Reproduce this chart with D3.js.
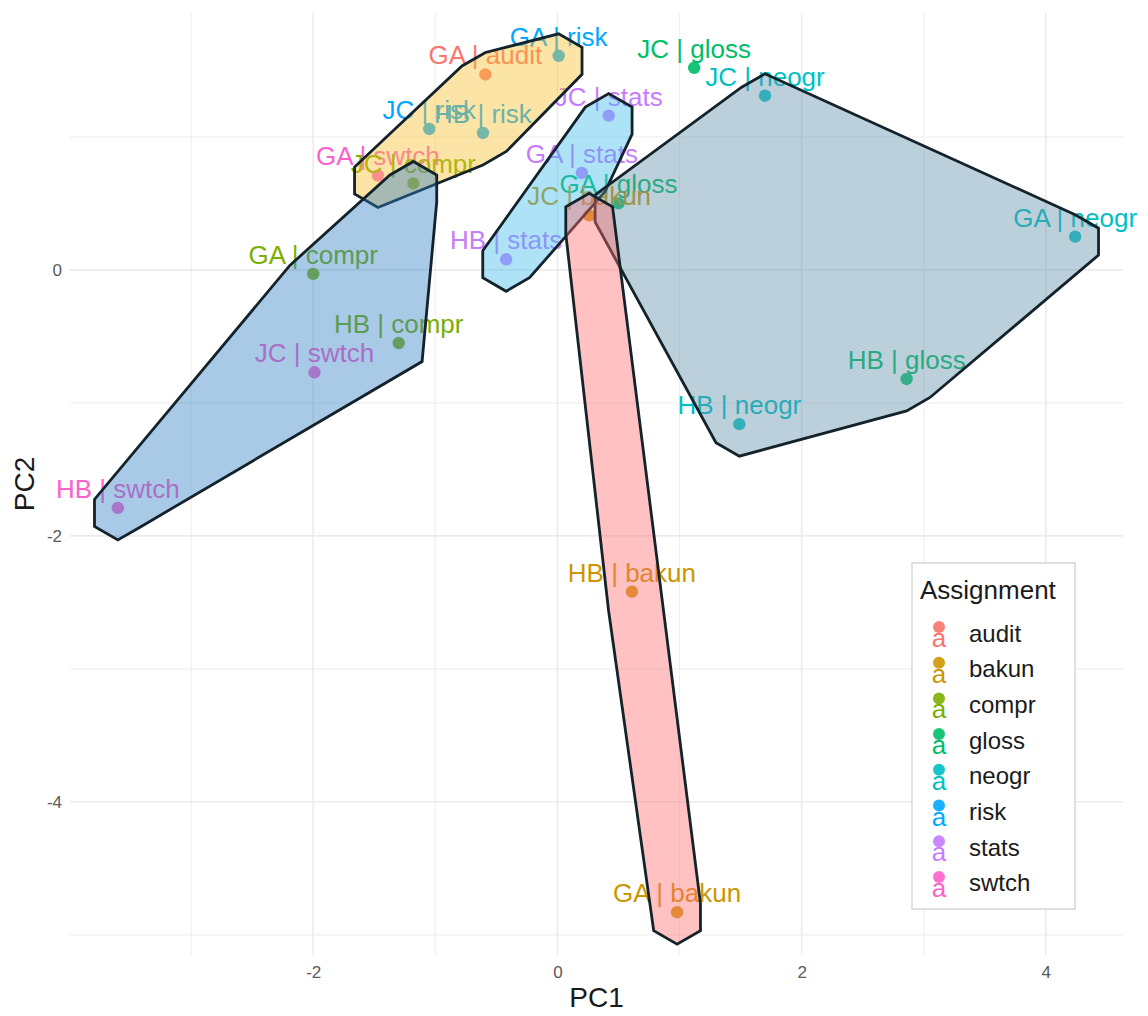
<!DOCTYPE html>
<html>
<head>
<meta charset="utf-8">
<script src="https://cdn.jsdelivr.net/npm/d3@7"></script>
<style>
  html, body { margin: 0; padding: 0; background: #fff; }
  svg { display: block; font-family: "Liberation Sans", Arial, sans-serif; }
</style>
</head>
<body>
<svg id="chart" width="1148" height="1016"></svg>
<script>
// ---- data ----
const coders      = ["GA","GA","JC","HB","GA","JC","GA","HB","JC","HB","JC","GA","HB","JC","GA","HB","HB","GA","JC","HB","GA","JC"];
const assignments = ["audit","risk","risk","risk","swtch","compr","compr","compr","swtch","swtch","stats","stats","stats","neogr","neogr","gloss","neogr","gloss","bakun","bakun","bakun","gloss"];
const pc1 = [-0.59, 0.01, -1.05, -0.61, -1.47, -1.18, -2.00, -1.30, -1.99, -3.60, 0.42, 0.20, -0.42, 1.70, 4.24, 2.86, 1.49, 0.50, 0.26, 0.61, 0.98, 1.12];
const pc2 = [1.47, 1.61, 1.06, 1.03, 0.71, 0.65, -0.03, -0.55, -0.77, -1.79, 1.16, 0.73, 0.08, 1.31, 0.25, -0.82, -1.16, 0.50, 0.41, -2.42, -4.83, 1.52];
const cluster = [1,1,1,1,1, 2,2,2,2,2, 3,3,3, 4,4,4,4,4, 5,5,5, 6];

const categories = ["audit","bakun","compr","gloss","neogr","risk","stats","swtch"];
const catColors  = ["#F8766D","#CD9600","#7CAE00","#00BE67","#00BFC4","#00A9FF","#C77CFF","#FF61CC"];
const clusterIds = [1,2,3,4,5,6];
const clusterFill = ["#F7BE2E","#2F80C4","#3DBBEA","#5C8EA7","#FF6B6B","#999999"];

const xMajor = [-2, 0, 2, 4];
const xMinor = [-3, -1, 1, 3];
const yMajor = [0, -2, -4];
const yMinor = [1, -1, -3, -5];

// ---- layout ----
const svg = d3.select("#chart");
const panel = {left: 70, right: 1123, top: 13, bottom: 955};

function expandExtent(arr) {
  const e = d3.extent(arr);
  const pad = (e[1] - e[0]) * 0.05;
  return [e[0] - pad, e[1] + pad];
}
const x = d3.scaleLinear().domain(expandExtent(pc1)).range([panel.left, panel.right]);
const y = d3.scaleLinear().domain(expandExtent(pc2)).range([panel.bottom, panel.top]);
const color = d3.scaleOrdinal().domain(categories).range(catColors);
const fillC = d3.scaleOrdinal().domain(clusterIds).range(clusterFill);

svg.append("rect").attr("width", 1148).attr("height", 1016).attr("fill", "#fff");

// gridlines
const grid = svg.append("g");
grid.selectAll(".vmin").data(xMinor).join("line")
  .attr("x1", d => x(d)).attr("x2", d => x(d)).attr("y1", panel.top).attr("y2", panel.bottom)
  .attr("stroke", "#f0f0f0").attr("stroke-width", 1.2);
grid.selectAll(".hmin").data(yMinor).join("line")
  .attr("y1", d => y(d)).attr("y2", d => y(d)).attr("x1", panel.left).attr("x2", panel.right)
  .attr("stroke", "#f0f0f0").attr("stroke-width", 1.2);
grid.selectAll(".vmaj").data(xMajor).join("line")
  .attr("x1", d => x(d)).attr("x2", d => x(d)).attr("y1", panel.top).attr("y2", panel.bottom)
  .attr("stroke", "#ebebeb").attr("stroke-width", 1.6);
grid.selectAll(".hmaj").data(yMajor).join("line")
  .attr("y1", d => y(d)).attr("y2", d => y(d)).attr("x1", panel.left).attr("x2", panel.right)
  .attr("stroke", "#ebebeb").attr("stroke-width", 1.6);

// axes (tick labels only, theme_minimal)
const fmt = d => String(d);
const xAxis = d3.axisBottom(x).tickValues(xMajor).tickSize(0).tickPadding(0).tickFormat(fmt);
const gx = svg.append("g").attr("transform", `translate(0,${panel.bottom + 8})`).call(xAxis);
gx.select(".domain").remove();
gx.selectAll("text").attr("font-size", 17).attr("fill", "#5a5a5a").attr("dy", "0.9em")
  .attr("font-family", "Liberation Sans, Arial, sans-serif");

const yAxis = d3.axisLeft(y).tickValues(yMajor).tickSize(0).tickPadding(0).tickFormat(fmt);
const gy = svg.append("g").attr("transform", `translate(${panel.left - 8},0)`).call(yAxis);
gy.select(".domain").remove();
gy.selectAll("text").attr("font-size", 17).attr("fill", "#5a5a5a")
  .attr("font-family", "Liberation Sans, Arial, sans-serif");

// data rows
const rows = pc1.map((v, i) => ({
  x: v, y: pc2[i], coder: coders[i], asg: assignments[i], cl: cluster[i],
  label: coders[i] + " | " + assignments[i]
}));

// points
svg.append("g").selectAll("circle").data(rows).join("circle")
  .attr("cx", d => x(d.x)).attr("cy", d => y(d.y)).attr("r", 6.2)
  .attr("fill", d => color(d.asg)).attr("fill-opacity", 0.9);

// labels
svg.append("g").selectAll("text").data(rows).join("text")
  .attr("x", d => x(d.x)).attr("y", d => y(d.y) - 10)
  .attr("text-anchor", "middle").attr("font-size", 26)
  .attr("fill", d => color(d.asg))
  .text(d => d.label);

// hulls (expanded convex hulls, drawn on top)
const R = 27, DY = 5;
const hexAngles = d3.range(6).map(k => (30 + 60 * k) * Math.PI / 180);
const groups = d3.groups(rows, d => d.cl).filter(g => g[1].length >= 3);
const hullG = svg.append("g");
groups.forEach(([cl, pts]) => {
  const cloud = [];
  pts.forEach(p => {
    const px = x(p.x), py = y(p.y) + DY;
    hexAngles.forEach(a => cloud.push([px + R * Math.cos(a), py + R * Math.sin(a)]));
  });
  const hull = d3.polygonHull(cloud);
  hullG.append("path")
    .attr("d", "M" + hull.map(p => p.join(",")).join("L") + "Z")
    .attr("fill", fillC(cl)).attr("fill-opacity", 0.42)
    .attr("stroke", "#13222b").attr("stroke-width", 2.8).attr("stroke-linejoin", "miter");
});

// legend
const lg = svg.append("g");
lg.append("rect").attr("x", 912).attr("y", 563).attr("width", 163).attr("height", 346)
  .attr("fill", "#fff").attr("stroke", "#d6d6d6").attr("stroke-width", 1.5);
lg.append("text").attr("x", 920).attr("y", 599).attr("font-size", 26).attr("fill", "#1a1a1a")
  .text("Assignment");
const rowY0 = 633, rowStep = 35.7;
categories.forEach((c, i) => {
  const ry = rowY0 + i * rowStep;
  lg.append("circle").attr("cx", 939).attr("cy", ry - 6).attr("r", 6).attr("fill", color(c)).attr("fill-opacity", 0.9);
  lg.append("text").attr("x", 939).attr("y", ry + 14).attr("text-anchor", "middle")
    .attr("font-size", 26).attr("fill", color(c)).text("a");
  lg.append("text").attr("x", 969).attr("y", ry).attr("dominant-baseline", "central")
    .attr("font-size", 24).attr("fill", "#1a1a1a").text(c);
});

// axis titles
svg.append("text").attr("x", (panel.left + panel.right) / 2).attr("y", 1007)
  .attr("text-anchor", "middle").attr("font-size", 28).attr("fill", "#1a1a1a").text("PC1");
svg.append("text").attr("transform", `translate(34,${(panel.top + panel.bottom) / 2}) rotate(-90)`)
  .attr("text-anchor", "middle").attr("font-size", 28).attr("fill", "#1a1a1a").text("PC2");
</script>
</body>
</html>
